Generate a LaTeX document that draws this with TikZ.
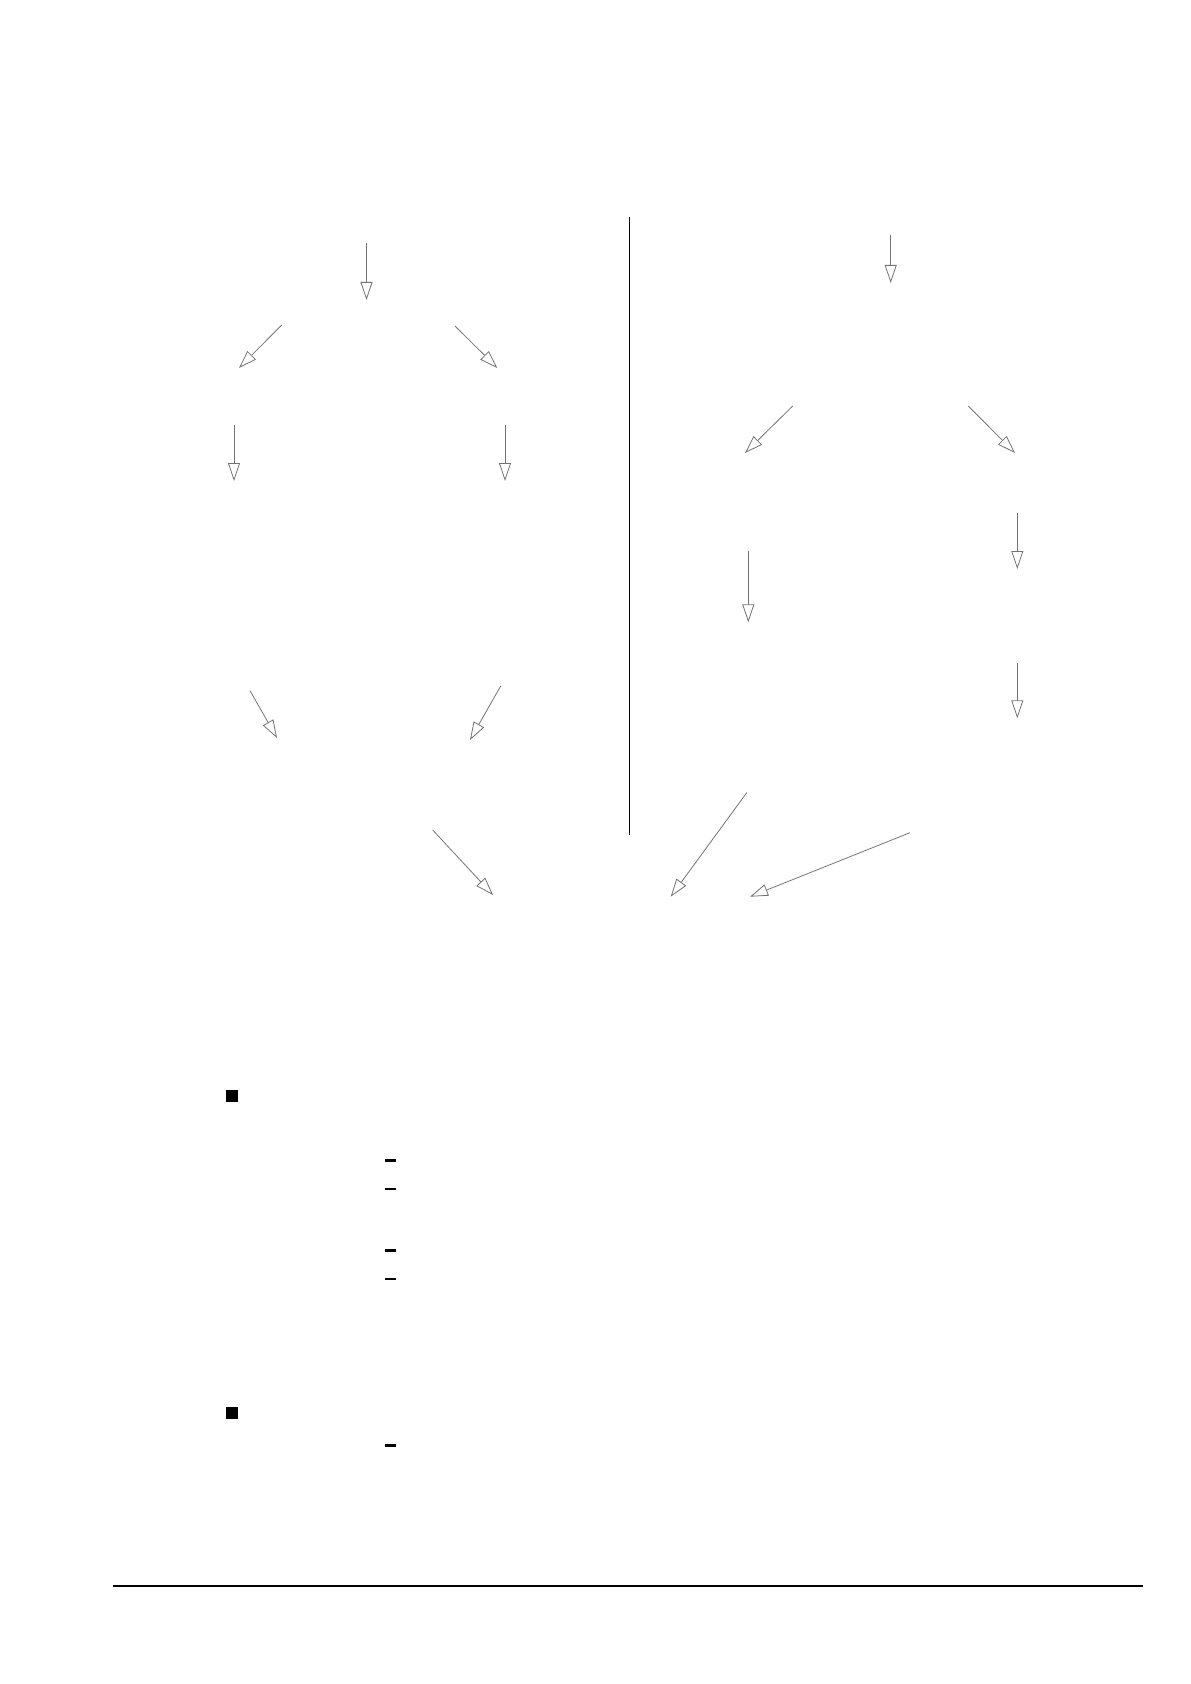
\documentclass[tikz,border=0pt]{standalone}
\usetikzlibrary{arrows.meta}
\begin{document}
\begin{tikzpicture}[x=0.5pt,y=-0.5pt,
  flow/.style={draw=black!55, line width=0.4pt, -{Triangle[open, length=9pt, width=6pt, fill=white]}},
  divider/.style={draw=black, line width=0.7pt},
  bulletsq/.style={fill=black},
  dashmark/.style={fill=black},
  footrule/.style={draw=black, line width=0.7pt}]
\useasboundingbox (0,0) rectangle (1190,1684);
% left column coordinates
\coordinate (a1s) at (366.5,243);
\coordinate (a1e) at (366.5,300);
\coordinate (a2s) at (281.7,325);
\coordinate (a2e) at (239,368);
\coordinate (a3s) at (455,326);
\coordinate (a3e) at (497.3,368);
\coordinate (a4s) at (234,425);
\coordinate (a4e) at (234,481);
\coordinate (a5s) at (505,425);
\coordinate (a5e) at (505,481);
\coordinate (a6s) at (250,690.7);
\coordinate (a6e) at (277,738);
\coordinate (a7s) at (500.7,686);
\coordinate (a7e) at (470,740);
\coordinate (a8s) at (432.7,830);
\coordinate (a8e) at (493,895);
% divider
\coordinate (d1) at (629.3,216.7);
\coordinate (d2) at (629.3,835);
% right column coordinates
\coordinate (b1s) at (890.7,235);
\coordinate (b1e) at (890.7,283);
\coordinate (b2s) at (792.7,406);
\coordinate (b2e) at (745,453);
\coordinate (b3s) at (968.3,406);
\coordinate (b3e) at (1015,453);
\coordinate (b4s) at (1017.3,513.3);
\coordinate (b4e) at (1017.3,569);
\coordinate (b5s) at (748.3,550.7);
\coordinate (b5e) at (748.3,622.3);
\coordinate (b6s) at (1017.3,663.3);
\coordinate (b6e) at (1017.3,718.3);
\coordinate (b7s) at (746.7,792.7);
\coordinate (b7e) at (670.7,896.7);
\coordinate (b8s) at (910,832.7);
\coordinate (b8e) at (750,896.7);
% arrows
\foreach \n in {a1,a2,a3,a4,a5,a6,a7,a8,b1,b2,b3,b4,b5,b6,b7,b8}
  \draw[flow] (\n s) -- (\n e);
\draw[divider] (d1) -- (d2);
% bullets
\fill[bulletsq] (226,1090) rectangle (238,1102);
\fill[bulletsq] (226,1407) rectangle (238,1419);
% dashes
\foreach \y in {1160.3,1188.7,1250.3,1279,1445.3}
  \fill[dashmark] (385,\y-1.2) rectangle (396,\y+1.2);
% footer rule
\coordinate (r1) at (113,1586);
\coordinate (r2) at (1142.7,1586);
\draw[footrule] (r1) -- (r2);
\end{tikzpicture}
\end{document}
